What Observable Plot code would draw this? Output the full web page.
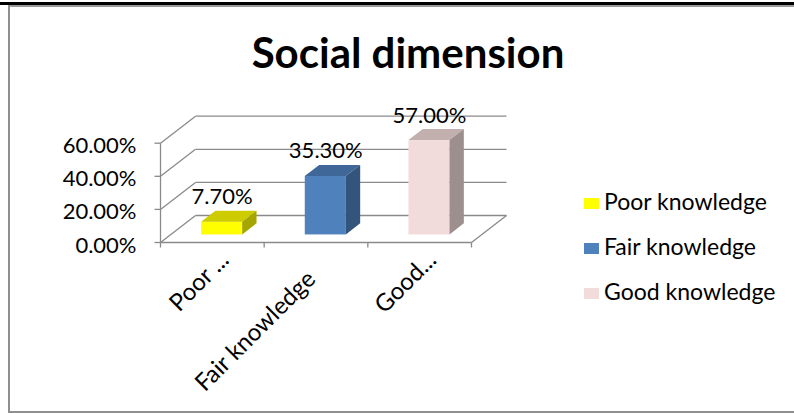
<!DOCTYPE html>
<html>
<head>
<meta charset="utf-8">
<script src="https://cdn.jsdelivr.net/npm/d3@7"></script>
<script src="https://cdn.jsdelivr.net/npm/@observablehq/plot@0.6"></script>
<style>
  html, body { margin: 0; padding: 0; background: #fff; }
  #frame { position: relative; width: 794px; height: 414px; overflow: hidden; font-family: Lato, "Open Sans", sans-serif; color: #000; }
  .rule { position: absolute; }
  #title { position: absolute; left: 408px; top: 31px; transform: translateX(-50%); font-weight: 700; font-size: 42px; line-height: 42px; white-space: nowrap; }
  #chart { position: absolute; left: 0; top: 0; }
  .item { position: absolute; left: 584px; height: 26px; white-space: nowrap; font-size: 23px; line-height: 24px; }
  .swatch { position: absolute; left: 0; width: 15px; height: 11px; }
  .label { position: absolute; left: 20px; }
</style>
</head>
<body>
<div id="frame">
  <div class="rule" style="left:0;right:0;top:2px;height:3px;background:#000"></div>
  <div class="rule" style="left:8px;right:0;top:5px;height:1.5px;background:#9a9a9a"></div>
  <div class="rule" style="left:8px;top:5px;width:2px;bottom:1px;background:#8f8f8f"></div>
  <div class="rule" style="left:8px;right:0;bottom:1px;height:2px;background:#8f8f8f"></div>
  <div id="title">Social dimension</div>
  <div id="chart"></div>
  <div id="legend"></div>
</div>
<script>
// Knowledge levels, their shares (%) and the axis labels
const categories = ["Poor knowledge", "Fair knowledge", "Good knowledge"];
const tickLabels = ["Poor ...", "Fair knowledge", "Good..."];
const values = [7.7, 35.3, 57.0];
const yTicks = [0, 20, 40, 60];
const colors = ["#FFFF00", "#4F81BD", "#F2DCDB"];

// Shade a face of a box by scaling its RGB channels
const shade = (c, k) => {
  const r = d3.rgb(c);
  return d3.rgb(r.r * k, r.g * k, r.b * k).formatHex();
};

// Plot area and the oblique depth of the 3-D floor / walls
const xRange = [160, 471];
const yRange = [242, 142.7];
const pxPerX = (xRange[1] - xRange[0]) / 3;
const pxPerY = (yRange[0] - yRange[1]) / 60;
const depth = {x: 35 / pxPerX, y: 27 / pxPerY};
const f1 = 0.28, f2 = 0.69, half = 0.198, s = f2 - f1;

const bars = categories.map((c, i) => {
  const x0 = i + 0.5 - half + f1 * depth.x;
  const x1 = i + 0.5 + half + f1 * depth.x;
  const yb = f1 * depth.y;
  const yt = values[i] + f1 * depth.y;
  return {c, i, v: values[i], x0, x1, yb, yt, front: colors[i], top: shade(colors[i], 0.8), side: shade(colors[i], 0.65)};
});
const topFaces = bars.flatMap(b => [
  {c: b.c, fill: b.top, y: b.yt, x1: b.x0, x2: b.x1},
  {c: b.c, fill: b.top, y: b.yt + s * depth.y, x1: b.x0 + s * depth.x, x2: b.x1 + s * depth.x}
]);
const sideFaces = bars.flatMap(b => [
  {c: b.c, fill: b.side, x: b.x1, y1: b.yb, y2: b.yt},
  {c: b.c, fill: b.side, x: b.x1 + s * depth.x, y1: b.yb + s * depth.y, y2: b.yt + s * depth.y}
]);
const catTicks = tickLabels.map((t, i) => ({t, i, x: i + 0.5, cut: t !== categories[i]}));

const grid = {stroke: "#8a8a8a", strokeWidth: 1.3};
const font = {fontFamily: "Lato, 'Open Sans', sans-serif", fill: "#000"};

const chart = Plot.plot({
  width: 794,
  height: 414,
  margin: 0,
  x: {type: "linear", domain: [0, 3], range: xRange, axis: null},
  y: {type: "linear", domain: [0, 60], range: yRange, axis: null},
  color: {type: "identity"},
  style: {background: "transparent", overflow: "visible"},
  marks: [
    // side wall
    Plot.link(yTicks, {x1: () => 0, y1: d => d, x2: () => depth.x, y2: d => d + depth.y, ...grid}),
    // back wall
    Plot.link(yTicks, {x1: () => depth.x, y1: d => d + depth.y, x2: () => 3 + depth.x, y2: d => d + depth.y, ...grid}),
    // floor edges
    Plot.link([0], {x1: () => 0, y1: () => 0, x2: () => 3, y2: () => 0, ...grid}),
    Plot.link([0], {x1: () => 3, y1: () => 0, x2: () => 3 + depth.x, y2: () => depth.y, ...grid}),
    // value axis and its ticks
    Plot.link([0], {x1: () => 0, y1: () => 0, x2: () => 0, y2: () => 60, ...grid}),
    Plot.link(yTicks, {x1: () => -6 / pxPerX, y1: d => d, x2: () => 0, y2: d => d, ...grid}),
    Plot.link(d3.range(4), {x1: d => d, y1: () => 0, x2: d => d, y2: () => -5 / pxPerY, ...grid}),
    Plot.text(yTicks, {x: () => 0, y: d => d, text: d => d.toFixed(2) + "%", textAnchor: "end", dx: -24, dy: 3, fontSize: 22, ...font}),
    // boxes
    Plot.rect(bars, {x1: "x0", x2: "x1", y1: "yb", y2: "yt", fill: "front"}),
    Plot.areaX(topFaces, {y: "y", x1: "x1", x2: "x2", z: "c", fill: "fill", curve: "linear"}),
    Plot.areaY(sideFaces, {x: "x", y1: "y1", y2: "y2", z: "c", fill: "fill", curve: "linear"}),
    // value labels
    Plot.text(bars, {x: d => d.i + 0.5 + f1 * depth.x, y: d => d.v + f2 * depth.y, text: d => d.v.toFixed(2) + "%", lineAnchor: "bottom", dy: -7, fontSize: 22, ...font}),
    // category labels
    Plot.text(catTicks.filter(d => d.cut), {x: "x", y: () => 0, text: "t", rotate: -45, textAnchor: "end", lineAnchor: "bottom", dx: 18, dy: 19, fontSize: 24, ...font}),
    Plot.text(catTicks.filter(d => !d.cut), {x: "x", y: () => 0, text: "t", rotate: -45, textAnchor: "end", lineAnchor: "bottom", dx: 1, dy: 38, fontSize: 24, ...font})
  ]
});
document.getElementById("chart").appendChild(chart);

// Legend: one swatch per level
const legend = d3.select("#legend");
categories.forEach((c, i) => {
  const item = legend.append("div").attr("class", "item").style("top", (189 + i * 45) + "px");
  item.append("div").attr("class", "swatch").style("top", "9px").style("background", colors[i]);
  item.append("div").attr("class", "label").text(c);
});
</script>
</body>
</html>
